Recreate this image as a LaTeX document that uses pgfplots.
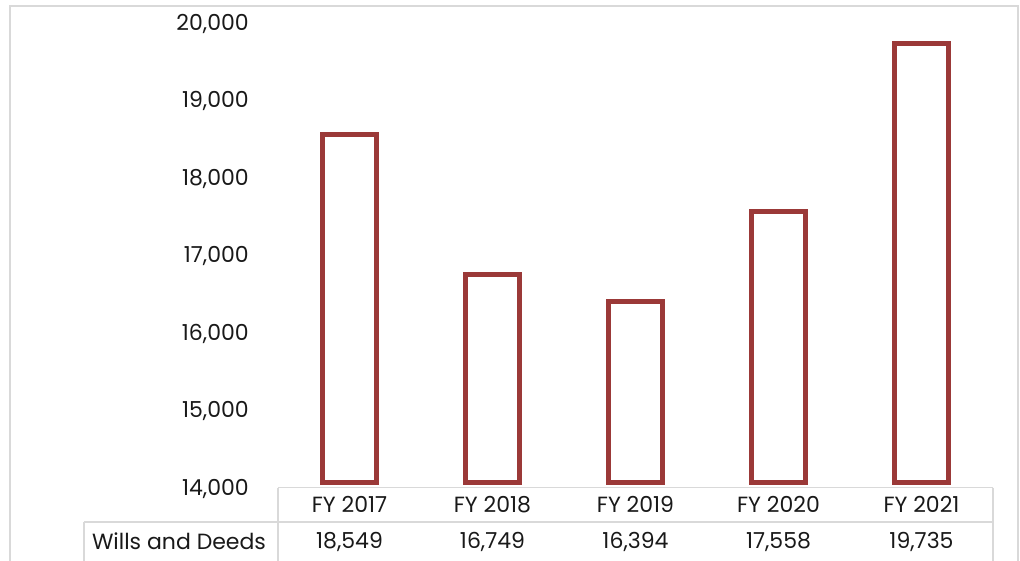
\documentclass[border=0pt]{standalone}
\usepackage{pgfplots}
\pgfplotsset{compat=1.18}
\usepackage{fontspec}
\setmainfont{Poppins}
\definecolor{barred}{RGB}{155,57,56}
\definecolor{bordergray}{RGB}{217,217,217}
\definecolor{txt}{RGB}{25,25,25}
\begin{document}
\begin{tikzpicture}
\useasboundingbox (0pt,0pt) rectangle (765pt,-420pt);
\clip (0pt,0pt) rectangle (765pt,-420pt);
\begin{scope}[x=0.75pt,y=-0.75pt]
\draw[bordergray, line width=1.5pt] (10,6) rectangle (1018,620);
\draw[bordergray, line width=1.1pt] (278,487.5) -- (993,487.5);
\draw[bordergray, line width=1.1pt] (84,522) -- (993,522);
\draw[bordergray, line width=1.1pt] (278,487.5) -- (278,600);
\draw[bordergray, line width=1.1pt] (993,487.5) -- (993,600);
\draw[bordergray, line width=1.1pt] (84,522) -- (84,600);
\node[txt, font=\fontsize{16.5pt}{18pt}\selectfont, inner sep=0pt] at (179,541) {Wills and Deeds};
\end{scope}
\begin{axis}[
  at={(208.5pt,-365.625pt)}, anchor=south west,
  scale only axis, width=536.25pt, height=348.75pt,
  xmin=-0.5, xmax=4.5, ymin=14000, ymax=20000,
  y coord trafo/.code={\begingroup\pgfkeys{/pgf/fpu=true,/pgf/fpu/output format=fixed}\pgfmathparse{#1-14065}\xdef\mytrafo{\pgfmathresult}\endgroup\let\pgfmathresult\mytrafo},
  y coord inv trafo/.code={\begingroup\pgfkeys{/pgf/fpu=true,/pgf/fpu/output format=fixed}\pgfmathparse{#1+14065}\xdef\mytrafo{\pgfmathresult}\endgroup\let\pgfmathresult\mytrafo},
  ytick={14000,15000,16000,17000,18000,19000,20000},
  yticklabels={{14,000},{15,000},{16,000},{17,000},{18,000},{19,000},{20,000}},
  xtick={0,1,2,3,4},
  xticklabels={{FY 2017\\18,549},{FY 2018\\16,749},{FY 2019\\16,394},{FY 2020\\17,558},{FY 2021\\19,735}},
  axis line style={draw=none},
  major tick length=0pt,
  tick style={draw=none},
  yticklabel style={anchor=east, inner sep=0pt, xshift=-21.75pt, yshift=-1pt, text=txt, font=\fontsize{16.5pt}{18pt}\selectfont},
  xticklabel style={align=center, anchor=center, inner sep=0pt, yshift=-27.6pt, text=txt, font=\fontsize{16.5pt}{27pt}\selectfont},
]
\addplot[ybar, bar width=40.5pt, draw=barred, line width=3.75pt, fill=white]
  coordinates {(0,18549) (1,16749) (2,16394) (3,17558) (4,19735)};
\end{axis}
\end{tikzpicture}
\end{document}
